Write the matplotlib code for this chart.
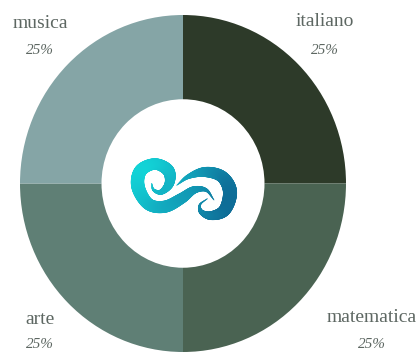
import numpy as np
import matplotlib
matplotlib.use("Agg")
import matplotlib.pyplot as plt
from matplotlib.collections import LineCollection
from matplotlib.colors import LinearSegmentedColormap

subjects = ["italiano", "matematica", "arte", "musica"]
shares = [25, 25, 25, 25]
wedge_colors = ["#2d3a29", "#4a6352", "#5f7f75", "#85a5a6"]
label_positions = [(325, 22, 50), (372, 318, 344), (40, 319, 344), (40, 23, 50)]

W, H = 417, 353
fig = plt.figure(figsize=(W / 100, H / 100), dpi=100, facecolor="white")

# The ring is slightly taller than wide, so it fills an axes of free aspect
ring_ax = fig.add_axes([20 / W, (H - 352) / H, 326 / W, 337 / H])
ring_ax.pie(shares, colors=wedge_colors, startangle=90, counterclock=False,
            radius=1, wedgeprops=dict(width=0.5, linewidth=0))
ring_ax.set_xlim(-1, 1)
ring_ax.set_ylim(-1, 1)
ring_ax.set_aspect("auto")
ring_ax.axis("off")

# Overlay in pixel units for the labels and the central emblem
ax = fig.add_axes([0, 0, 1, 1])
ax.set_xlim(0, W)
ax.set_ylim(H, 0)
ax.axis("off")
ax.patch.set_alpha(0)

for name, share, (x, y_name, y_share) in zip(subjects, shares, label_positions):
    ax.text(x, y_name, name, ha="center", va="center", color="#5d6762",
            family="Liberation Serif", fontsize=14)
    ax.text(x, y_share, f"{share}%", ha="center", va="center", color="#5d6762",
            family="Liberation Serif", fontsize=11, style="italic")


def catmull(points, n=24):
    """Smooth curve through control points (x, y, stroke width)."""
    p = np.asarray(points, float)
    p = np.vstack([2 * p[0] - p[1], p, 2 * p[-1] - p[-2]])
    t = np.linspace(0, 1, n, endpoint=False)[:, None]
    out = []
    for i in range(1, len(p) - 2):
        a, b, c, d = p[i - 1], p[i], p[i + 1], p[i + 2]
        out.append(0.5 * (2 * b + (c - a) * t + (2 * a - 5 * b + 4 * c - d) * t**2
                          + (3 * b - a - 3 * c + d) * t**3))
    out.append(p[-2][None, :])
    return np.vstack(out)


# Emblem strokes in a local frame at triple scale: x, y, width
left_stroke = [(95, 160, 2), (101, 180, 8), (124, 186, 16), (148, 160, 28),
               (145, 122, 36), (105, 102, 34), (62, 122, 38), (54, 170, 40),
               (85, 222, 36), (135, 230, 36), (185, 205, 32), (222, 180, 22),
               (258, 180, 10), (282, 210, 2)]
right_stroke = [(170, 166, 2), (205, 140, 14), (255, 126, 30), (306, 140, 36),
                (330, 185, 42), (314, 240, 36), (274, 257, 26), (244, 246, 14),
                (240, 224, 6), (262, 206, 2)]

teal_blue = LinearSegmentedColormap.from_list("emblem", ["#12e0de", "#12a3bb", "#0d5c8c"])
for stroke in (left_stroke, right_stroke):
    c = catmull(stroke)
    x = 120 + c[:, 0] / 3
    y = 130 + c[:, 1] / 3
    pts = np.column_stack([x, y])
    segs = np.stack([pts[:-1], pts[1:]], axis=1)
    tone = np.clip(((x[:-1] - 132) + 0.5 * (y[:-1] - 158)) / 135, 0, 1)
    lc = LineCollection(segs, colors=teal_blue(tone),
                        linewidths=c[:-1, 2] / 3 * 0.72, capstyle="round", zorder=5)
    ax.add_collection(lc)

fig.savefig("out.png", dpi=100, facecolor="white")
